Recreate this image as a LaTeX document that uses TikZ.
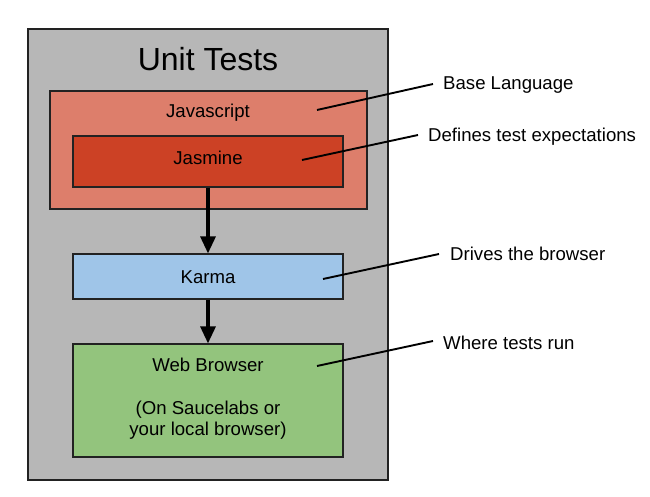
\documentclass[tikz,border=0pt]{standalone}
\usepackage{fontspec}
\setmainfont{Liberation Sans}
\usetikzlibrary{arrows.meta}
\definecolor{outerg}{HTML}{B7B7B7}
\definecolor{jsc}{HTML}{DD7E6B}
\definecolor{jasc}{HTML}{CC4125}
\definecolor{karc}{HTML}{9FC5E8}
\definecolor{webc}{HTML}{93C47D}
\definecolor{edge}{HTML}{222222}
\tikzset{
  box/.style={draw=edge, line width=1.2pt, rectangle, inner sep=0pt},
  txt/.style={inner sep=0pt, font=\fontsize{18.6}{21}\selectfont, align=center},
  lbl/.style={inner sep=0pt, font=\fontsize{18.6}{21}\selectfont, anchor=west},
  flow/.style={line width=3.2pt, -{Triangle[length=17pt,width=15pt]}},
  conn/.style={line width=1.9pt}
}
\begin{document}
\begin{tikzpicture}[x=1pt,y=-1pt]
\useasboundingbox (0,0) rectangle (650,497);
\node[box, fill=outerg, minimum width=360pt, minimum height=451pt] (outer) at (208,254.5) {};
\node[inner sep=0pt, font=\fontsize{32}{36}\selectfont] (title) at (208,59) {Unit Tests};
\node[box, fill=jsc, minimum width=317pt, minimum height=118pt] (js) at (208.5,150) {};
\node[txt] (jst) at (208,113) {Javascript};
\node[box, fill=jasc, minimum width=270pt, minimum height=51pt] (jas) at (208,161.5) {};
\node[txt] (jast) at (208,158) {Jasmine};
\node[box, fill=karc, minimum width=270pt, minimum height=45pt] (kar) at (208,276.5) {};
\node[txt] (kart) at (208,277) {Karma};
\node[box, fill=webc, minimum width=270pt, minimum height=113pt] (web) at (208,400.5) {};
\node[txt] (webt) at (208,365) {Web Browser};
\node[txt] (webs) at (208,420.5) {(On Saucelabs or\\your local browser)};
\draw[flow] (jas.south) -- (kar.north);
\draw[flow] (kar.south) -- (web.north);
\node[lbl] (l1) at (443,85) {Base Language};
\node[lbl] (l2) at (428,137) {Defines test expectations};
\node[lbl] (l3) at (450,254) {Drives the browser};
\node[lbl] (l4) at (443,343) {Where tests run};
\coordinate (p1) at (317,110);
\coordinate (p2) at (302,160);
\coordinate (p3) at (323,279);
\coordinate (p4) at (317,366);
\draw[conn] (p1) -- ([xshift=-10pt,yshift=1pt]l1.west);
\draw[conn] (p2) -- ([xshift=-10pt,yshift=2pt]l2.west);
\draw[conn] (p3) -- ([xshift=-11pt]l3.west);
\draw[conn] (p4) -- ([xshift=-10pt,yshift=2pt]l4.west);
\end{tikzpicture}
\end{document}
